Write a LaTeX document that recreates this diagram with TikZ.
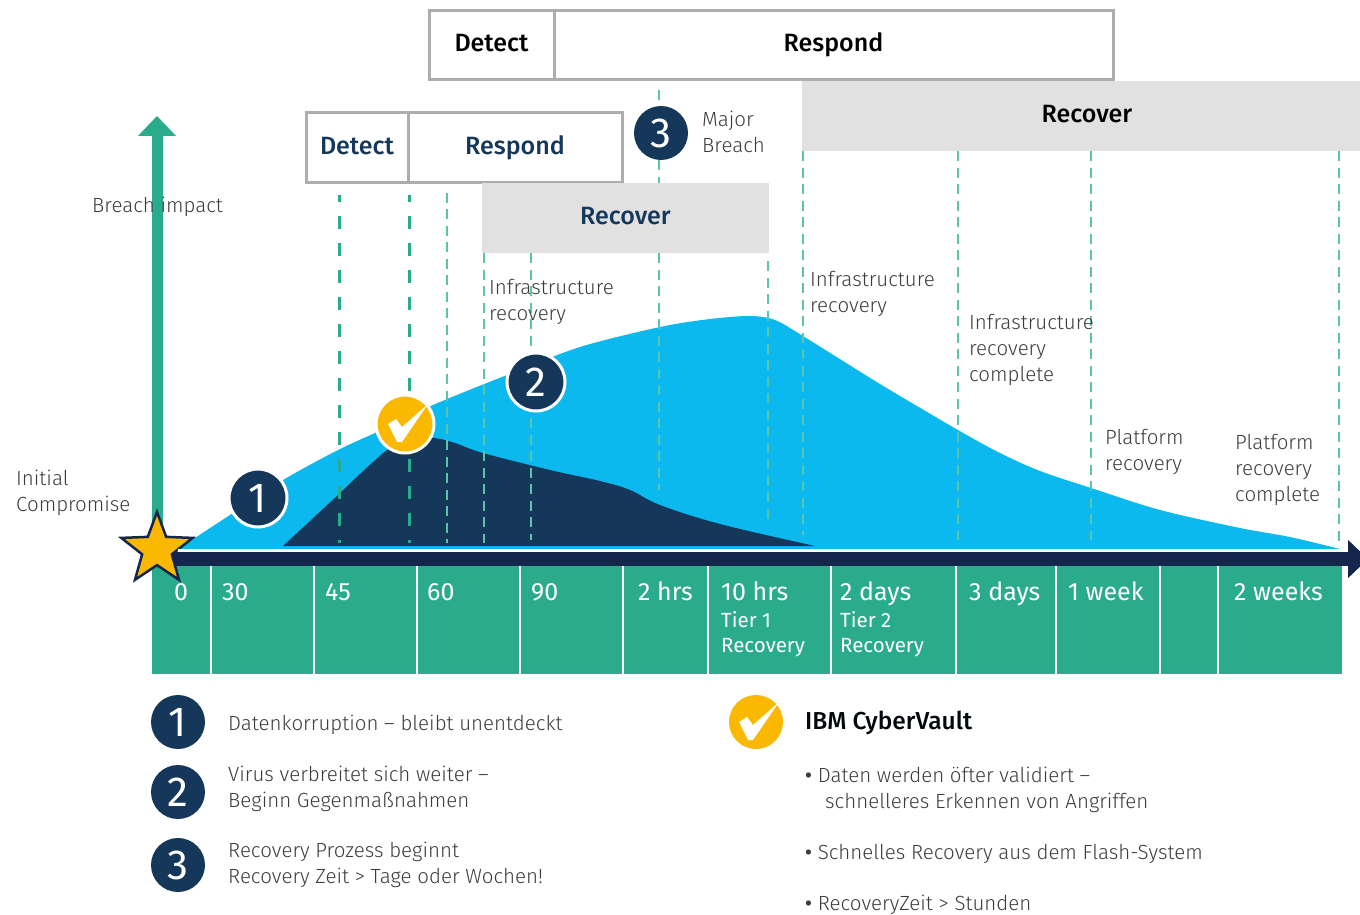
\documentclass[tikz,border=0pt]{standalone}
\usepackage{fontspec}
\setmainfont{Fira Sans Light}[BoldFont={Fira Sans Medium}]
\newfontfamily\tickfont{Fira Sans}
\usetikzlibrary{shapes.geometric,arrows.meta,backgrounds}
\definecolor{vaultgreen}{HTML}{2AAC8C}
\definecolor{dashgreen}{HTML}{5CC4A8}
\definecolor{breachblue}{HTML}{0CB9EF}
\definecolor{deepblue}{HTML}{14375A}
\definecolor{axisnavy}{HTML}{14264C}
\definecolor{gold}{HTML}{FBB800}
\definecolor{boxgray}{HTML}{ADADAD}
\definecolor{recgray}{HTML}{E1E1E1}
\definecolor{textgray}{HTML}{3C3C3C}
\tikzset{
  phasebox/.style={draw=boxgray,line width=3pt,fill=white,inner sep=0pt,minimum height=69pt,text height=18pt,text depth=5pt,font=\fontsize{25}{30}\selectfont\bfseries},
  recbox/.style={fill=recgray,inner sep=0pt,minimum height=70pt,text height=18pt,text depth=5pt,text=deepblue,font=\fontsize{25}{30}\selectfont\bfseries},
  badge/.style={circle,fill=deepblue,text=white,inner sep=0pt,minimum size=54pt,font=\fontsize{42}{46}\selectfont\tickfont},
  ringbadge/.style={badge,draw=white,line width=3pt,minimum size=58pt},
  checkbadge/.style={circle,fill=gold,inner sep=0pt,minimum size=54pt},
  lbl/.style={anchor=west,inner sep=0pt,align=left,text=textgray,font=\fontsize{20.5}{26}\selectfont},
  tick/.style={anchor=base west,inner sep=0pt,text=white,font=\fontsize{25}{30}\selectfont\tickfont},
  subtick/.style={anchor=west,inner sep=0pt,align=left,text=white,font=\fontsize{20.5}{25.5}\selectfont\tickfont},
  dashthick/.style={vaultgreen,line width=3pt,dash pattern=on 13pt off 14pt,dash phase=6pt,shorten <=11pt},
  dashthin/.style={dashgreen,line width=1.7pt,dash pattern=on 10pt off 6.5pt},
  divider/.style={white,line width=2.5pt},
}
\newcommand{\vaultcheck}[1]{\fill[white,shift={(#1)}] (-17,0) -- (-9,-5) -- (-3,3) -- (23,-20) -- (-3,18) -- (-8,18) -- cycle;}
\begin{document}
\begin{tikzpicture}[x=1pt,y=-1pt]
\useasboundingbox (0,0) rectangle (1360,915);
\clip (0,0) rectangle (1360,915);
% time bar
\fill[vaultgreen] (152,566) rectangle (1342,674);
\draw[divider] (211,566) -- (211,674);
\draw[divider] (314,566) -- (314,674);
\draw[divider] (417,566) -- (417,674);
\draw[divider] (520,566) -- (520,674);
\draw[divider] (623,566) -- (623,674);
\draw[divider] (708,566) -- (708,674);
\draw[divider] (831,566) -- (831,674);
\draw[divider] (956,566) -- (956,674);
\draw[divider] (1056,566) -- (1056,674);
\draw[divider] (1160,566) -- (1160,674);
\draw[divider] (1218,566) -- (1218,674);
% curves
\fill[breachblue] (178,549) -- (233,513) -- plot[smooth,tension=0.5] coordinates {(233,513) (283,480) (338,450) (377,432) (433,405) (507,375) (580,347) (660,327) (710,319) (750,316) (775,320) (803,336) (880,384) (958,430) (1000,453) (1040,471) (1091,488) (1160,510) (1240,528) (1290,537) (1340,549)} -- cycle;
\fill[deepblue] (283,546) -- (338,495) -- plot[smooth,tension=0.6] coordinates {(338,495) (387,450) (410,441) (433,438) (455,443) (483,453) (550,470) (600,481) (630,490) (660,505) (720,524) (815,546)} -- cycle;
% boxes
\node[phasebox,minimum width=125pt,text=black] (detA) at (491.5,45.5) {Detect};
\node[phasebox,minimum width=559pt,text=black] (respA) at (833.5,45.5) {Respond};
\node[phasebox,minimum width=102pt,text=deepblue] (detB) at (357,147.5) {Detect};
\node[phasebox,minimum width=214pt,text=deepblue] (respB) at (515,147.5) {Respond};
\node[recbox,minimum width=287pt] (recB) at (625.5,218) {Recover};
\node[recbox,minimum width=570pt,text=black] (recA) at (1087,116) {Recover};
% badges
\node[badge] (majr) at (661,133) {3};
\node[lbl] (majrtxt) at (702,132) {Major\\Breach};
% phase lines
\coordinate (ln339) at (339,543);
\coordinate (ln409) at (409,543);
\coordinate (ln447) at (447,543);
\coordinate (ln484) at (484,543);
\coordinate (ln531) at (531,540);
\coordinate (ln659) at (659,490);
\coordinate (ln768) at (768,525);
\coordinate (ln803) at (803,535);
\coordinate (ln958) at (958,540);
\coordinate (ln1091) at (1091,540);
\coordinate (ln1339) at (1339,545);
\draw[dashthick] (detB.south -| ln339) -- (ln339);
\draw[dashthick] (detB.south -| ln409) -- (ln409);
\draw[dashthin,shorten <=9pt] (respB.south -| ln447) -- (ln447);
\draw[dashthin] (recB.south -| ln484) -- (ln484);
\draw[dashthin] (recB.south -| ln531) -- (ln531);
\draw[dashthin,shorten <=9pt] (respA.south -| ln659) -- (majr.north -| ln659);
\draw[dashthin] (majr.south -| ln659) -- (recB.north -| ln659);
\draw[dashthin] (recB.south -| ln659) -- (ln659);
\draw[dashthin,shorten <=8pt] (recB.south -| ln768) -- (ln768);
\draw[dashthin] (recA.south -| ln803) -- (ln803);
\draw[dashthin] (recA.south -| ln958) -- (ln958);
\draw[dashthin] (recA.south -| ln1091) -- (ln1091);
\draw[dashthin] (recA.south -| ln1339) -- (ln1339);
% axes
\coordinate (axisend) at (1368,559);
\coordinate (impacttop) at (157,116);
\node[star,star points=5,star point ratio=2.4,inner sep=0pt,minimum size=75pt,fill=gold,draw=axisnavy,line width=2.5pt] (compr) at (157,549.5) {};
\fill[white] (178,549) rectangle (1340,552);
\begin{scope}[on background layer]
\draw[axisnavy,line width=14pt,-{Triangle[width=37pt,length=20pt]}] (compr.center |- axisend) -- (axisend);
\draw[vaultgreen,line width=11pt,-{Triangle[width=37pt,length=20pt]}] (compr.center) -- (impacttop);
\end{scope}
% markers on the curve
\node[ringbadge] (one) at (258,498) {1};
\node[ringbadge] (two) at (536,382) {2};
\node[checkbadge,draw=white,line width=3pt,minimum size=58pt] (chkA) at (405,424) {};
\vaultcheck{chkA}
% labels
\node[lbl] (impact) at (92,207) {Breach impact};
\node[lbl] (initial) at (16,493) {Initial\\Compromise};
\node[lbl] (infA) at (489,302) {Infrastructure\\recovery};
\node[lbl] (infB) at (810,294) {Infrastructure\\recovery};
\node[lbl] (infC) at (969,350) {Infrastructure\\recovery\\complete};
\node[lbl] (platA) at (1105,452) {Platform\\recovery};
\node[lbl] (platB) at (1235,470) {Platform\\recovery\\complete};
% ticks
\node[tick] (t0) at (174,600.5) {0};
\node[tick] (t30) at (222,600.5) {30};
\node[tick] (t45) at (325,600.5) {45};
\node[tick] (t60) at (427,600.5) {60};
\node[tick] (t90) at (531,600.5) {90};
\node[tick] (t2h) at (638,600.5) {2 hrs};
\node[tick] (t10h) at (721,600.5) {10 hrs};
\node[tick] (t2d) at (840,600.5) {2 days};
\node[tick] (t3d) at (969,600.5) {3 days};
\node[tick] (t1w) at (1068,600.5) {1 week};
\node[tick] (t2w) at (1234,600.5) {2 weeks};
\node[subtick] (tierA) at (721,634) {Tier 1\\Recovery};
\node[subtick] (tierB) at (840,634) {Tier 2\\Recovery};
% legend
\node[badge] (legA) at (178,722) {1};
\node[badge] (legB) at (178,792) {2};
\node[badge] (legC) at (178,865) {3};
\node[checkbadge] (chkB) at (756,722) {};
\vaultcheck{chkB}
\node[lbl] (legAtxt) at (228,725) {Datenkorruption – bleibt unentdeckt};
\node[lbl] (legBtxt) at (228,789) {Virus verbreitet sich weiter –\\Beginn Gegenmaßnahmen};
\node[lbl] (legCtxt) at (228,865) {Recovery Prozess beginnt\\Recovery Zeit > Tage oder Wochen!};
\node[anchor=west,inner sep=0pt,text=black!85!deepblue,font=\fontsize{24.5}{30}\selectfont\bfseries] (ibm) at (805,723) {IBM CyberVault};
\node[lbl] (ibmA) at (805,790) {{\bfseries •} Daten werden öfter validiert –\\\hspace*{20pt}schnelleres Erkennen von Angriffen};
\node[lbl] (ibmB) at (805,854) {{\bfseries •} Schnelles Recovery aus dem Flash-System};
\node[lbl] (ibmC) at (805,905) {{\bfseries •} RecoveryZeit > Stunden};
\end{tikzpicture}
\end{document}
